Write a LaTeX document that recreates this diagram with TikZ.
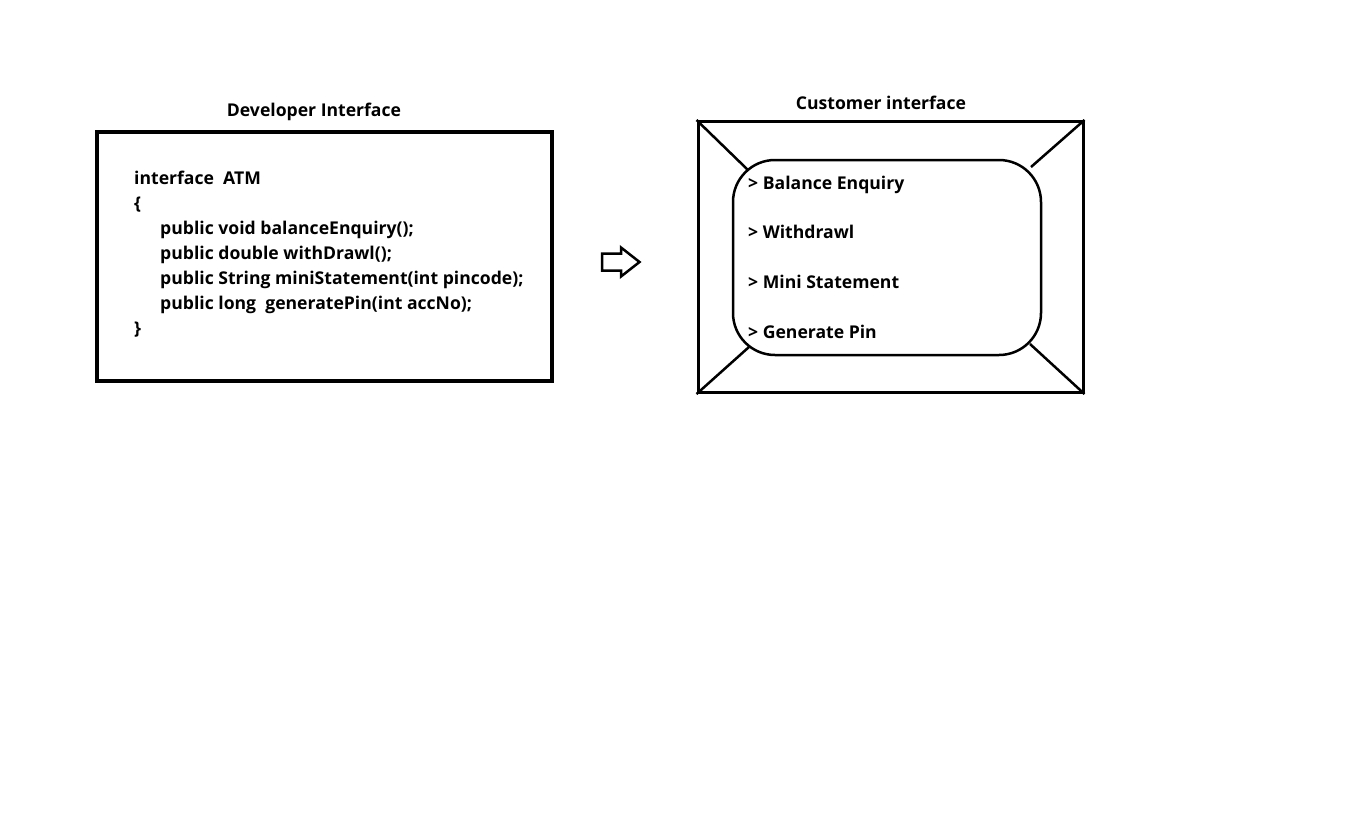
\documentclass[tikz,border=0pt]{standalone}
\usepackage{fontspec}
\setmainfont{Open Sans}
\begin{document}
\begin{tikzpicture}[x=1pt,y=-1pt,
  txt/.style={anchor=base west,inner sep=0pt,font=\fontsize{17.6}{20}\selectfont\bfseries},
  ttl/.style={anchor=base,inner sep=0pt,font=\fontsize{17.6}{20}\selectfont\bfseries},
  box/.style={draw,inner sep=0pt}]
\useasboundingbox (0,0) rectangle (1358,831);
% Developer interface
\node[box,line width=4pt,minimum width=455pt,minimum height=249pt] (dev) at (324.5,256.5) {};
\node[ttl] (devt) at (314,116) {Developer Interface};
\node[txt] (l1) at (134,184) {interface\ \ ATM};
\node[txt] (l2) at (134,209) {\{};
\node[txt] (l3) at (160,234) {public void balanceEnquiry();};
\node[txt] (l4) at (160,259) {public double withDrawl();};
\node[txt] (l5) at (160,284) {public String miniStatement(int pincode);};
\node[txt] (l6) at (160,309) {public long\ \ generatePin(int accNo);};
\node[txt] (l7) at (134,334) {\}};
% arrow
\draw[line width=2.5pt,line join=miter] (602,253.5) -- (621,253.5) -- (621,247.5) -- (639.5,262) -- (621,276.5) -- (621,270.5) -- (602,270.5) -- cycle;
% Customer interface
\node[box,line width=3pt,minimum width=385pt,minimum height=271pt] (cust) at (890.5,257) {};
\node[ttl] (custt) at (881,109) {Customer interface};
\node[box,line width=2.5pt,rounded corners=42pt,minimum width=308pt,minimum height=195pt] (scr) at (887,257.5) {};
\coordinate (a1) at (748,170);
\coordinate (a2) at (1031,167);
\coordinate (a3) at (749,347);
\coordinate (a4) at (1030,344);
\draw[line width=2.5pt] (cust.north west) -- (a1);
\draw[line width=2.5pt] (cust.north east) -- (a2);
\draw[line width=2.5pt] (cust.south west) -- (a3);
\draw[line width=2.5pt] (cust.south east) -- (a4);
\node[txt] (m1) at (748,189) {> Balance Enquiry};
\node[txt] (m2) at (748,238) {> Withdrawl};
\node[txt] (m3) at (748,288) {> Mini Statement};
\node[txt] (m4) at (748,338) {> Generate Pin};
\end{tikzpicture}
\end{document}
